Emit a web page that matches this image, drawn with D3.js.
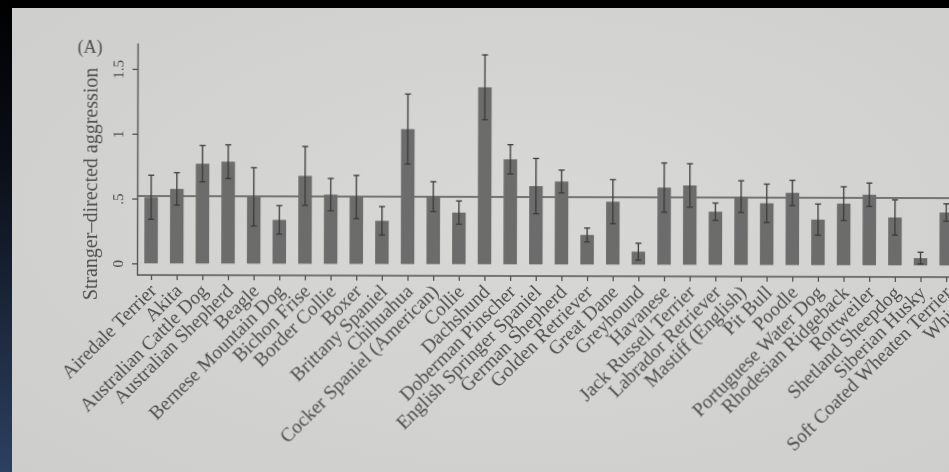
<!DOCTYPE html>
<html><head><meta charset="utf-8">
<script src="https://cdn.jsdelivr.net/npm/d3@7"></script>
<style>html,body{margin:0;padding:0;background:#000;overflow:hidden}</style>
</head><body>
<svg id="c" width="949" height="472"></svg>
<script>
const breeds = ["Airedale Terrier","Akita","Australian Cattle Dog","Australian Shepherd","Beagle","Bernese Mountain Dog","Bichon Frise","Border Collie","Boxer","Brittany Spaniel","Chihuahua","Cocker Spaniel (American)","Collie","Dachshund","Doberman Pinscher","English Springer Spaniel","German Shepherd","Golden Retriever","Great Dane","Greyhound","Havanese","Jack Russell Terrier","Labrador Retriever","Mastiff (English)","Pit Bull","Poodle","Portuguese Water Dog","Rhodesian Ridgeback","Rottweiler","Shetland Sheepdog","Siberian Husky","Soft Coated Wheaten Terrier","Whippet"];
const means = [0.51,0.575,0.77,0.786,0.515,0.338,0.678,0.534,0.516,0.333,1.041,0.521,0.398,1.365,0.81,0.604,0.64,0.228,0.485,0.10,0.595,0.612,0.41,0.527,0.476,0.557,0.351,0.475,0.544,0.369,0.056,0.408,null];
const errs = [0.17,0.125,0.14,0.13,0.225,0.11,0.227,0.125,0.167,0.11,0.27,0.115,0.09,0.25,0.113,0.213,0.088,0.053,0.17,0.065,0.19,0.167,0.067,0.122,0.148,0.097,0.12,0.13,0.09,0.136,0.045,0.067,null];
const overallMean = 0.52;
const yTicks = [0, 0.5, 1, 1.5];
const yTickLabels = ["0", ".5", "1", "1.5"];
const yTitle = "Stranger\u2013directed aggression";
const panelLabel = "(A)";

const svg = d3.select("#c");
const defs = svg.append("defs");
const lg = defs.append("linearGradient").attr("id","side").attr("x1",0).attr("y1",0).attr("x2",0).attr("y2",1);
lg.append("stop").attr("offset","0").attr("stop-color","#000");
lg.append("stop").attr("offset","0.35").attr("stop-color","#0b0f18");
lg.append("stop").attr("offset","1").attr("stop-color","#2c4060");
const pg = defs.append("radialGradient").attr("id","page").attr("cx","0.55").attr("cy","0.45").attr("r","0.8");
pg.append("stop").attr("offset","0").attr("stop-color","#d8d8d6");
pg.append("stop").attr("offset","1").attr("stop-color","#cdcdcb");
const bl = defs.append("filter").attr("id","soft");
bl.append("feGaussianBlur").attr("stdDeviation",0.45);

svg.append("rect").attr("width",949).attr("height",472).attr("fill","#000");
svg.append("rect").attr("x",0).attr("y",0).attr("width",12).attr("height",472).attr("fill","url(#side)");
svg.append("rect").attr("x",12).attr("y",8).attr("width",937).attr("height",464).attr("fill","url(#page)");

const font = "'Liberation Serif','Times New Roman',serif";
const ink = "#4e4e4e";

const x = d3.scalePoint().domain(breeds).range([151, 151 + 25.65*(breeds.length-1)]);
const y = d3.scaleLinear().domain([-0.09, 1.7]).range([275, 43]);
const bw = 13.5;

const g = svg.append("g").attr("transform","rotate(0.15,137,275)").attr("filter","url(#soft)");

// mean line
g.append("line").attr("x1",137).attr("x2",1000).attr("y1",y(overallMean)).attr("y2",y(overallMean))
  .attr("stroke","#555").attr("stroke-width",1.6);

const data = breeds.map((b,i)=>({b, m:means[i], e:errs[i]})).filter(d=>d.m!==null);

g.selectAll("rect.bar").data(data).join("rect").attr("class","bar")
  .attr("x",d=>x(d.b)-bw/2).attr("width",bw)
  .attr("y",d=>y(d.m)).attr("height",d=>y(0)-y(d.m))
  .attr("fill","#6c6c6c");

const eb = g.selectAll("g.err").data(data).join("g").attr("class","err")
  .attr("stroke","#3a3a3a").attr("stroke-width",1.3);
eb.append("line").attr("x1",d=>x(d.b)).attr("x2",d=>x(d.b)).attr("y1",d=>y(d.m+d.e)).attr("y2",d=>y(d.m-d.e));
eb.append("line").attr("x1",d=>x(d.b)-3).attr("x2",d=>x(d.b)+3).attr("y1",d=>y(d.m+d.e)).attr("y2",d=>y(d.m+d.e));
eb.append("line").attr("x1",d=>x(d.b)-3).attr("x2",d=>x(d.b)+3).attr("y1",d=>y(d.m-d.e)).attr("y2",d=>y(d.m-d.e));

// y axis
const ya = g.append("g").attr("transform","translate(137,0)")
  .call(d3.axisLeft(y).tickValues(yTicks).tickFormat((d,i)=>yTickLabels[i]).tickSize(5).tickSizeOuter(0));
ya.select(".domain").attr("stroke","#555").attr("stroke-width",1.4);
ya.selectAll(".tick line").attr("stroke","#555").attr("stroke-width",1.3);
ya.selectAll(".tick text").attr("font-family",font).attr("font-size",15).attr("fill",ink)
  .attr("x",0).attr("dy",0).attr("text-anchor","middle")
  .attr("transform","translate(-14,0) rotate(-90)");

// x axis
const xa = g.append("g").attr("transform","translate(0,275)")
  .call(d3.axisBottom(x).tickSize(5).tickSizeOuter(0));
xa.select(".domain").remove();
xa.append("line").attr("x1",137).attr("x2",1000).attr("stroke","#555").attr("stroke-width",1.4);
xa.selectAll(".tick line").attr("stroke","#555").attr("stroke-width",1.3);
xa.selectAll(".tick text").attr("font-family",font).attr("font-size",19.5).attr("fill",ink)
  .attr("text-anchor","end").attr("y",0).attr("dy",0)
  .attr("transform","translate(6,17) rotate(-45)");

// titles
g.append("text").attr("font-family",font).attr("font-size",20).attr("fill",ink)
  .attr("text-anchor","middle").attr("transform","translate(97,184) rotate(-90)").text(yTitle);
g.append("text").attr("font-family",font).attr("font-size",18).attr("fill",ink)
  .attr("x",77).attr("y",53).text(panelLabel);
</script>
</body></html>
